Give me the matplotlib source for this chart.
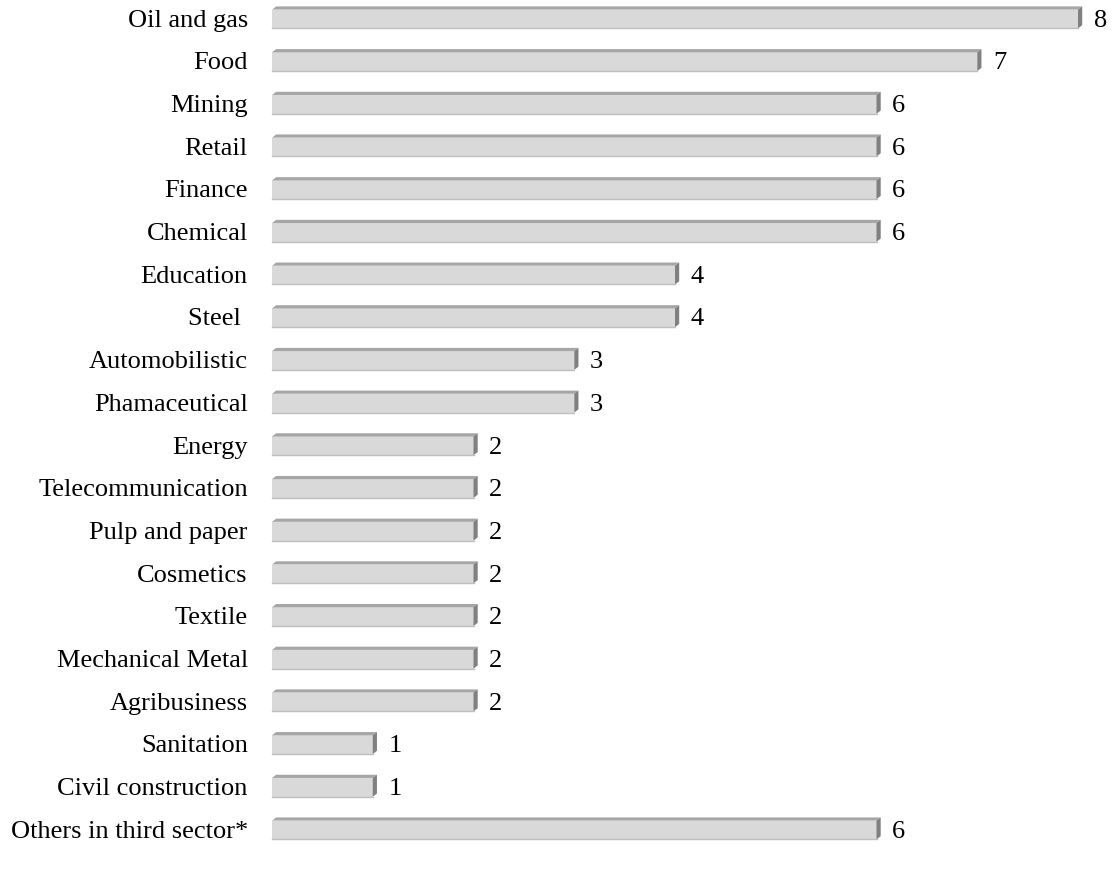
import matplotlib
matplotlib.use("Agg")
import matplotlib.pyplot as plt
from matplotlib.patches import Polygon

sectors = ["Oil and gas", "Food", "Mining", "Retail", "Finance", "Chemical",
           "Education", "Steel ", "Automobilistic", "Phamaceutical", "Energy",
           "Telecommunication", "Pulp and paper", "Cosmetics", "Textile",
           "Mechanical Metal", "Agribusiness", "Sanitation", "Civil construction",
           "Others in third sector*"]
counts = [8, 7, 6, 6, 6, 6, 4, 4, 3, 3, 2, 2, 2, 2, 2, 2, 2, 1, 1, 6]

plt.rcParams['font.family'] = ['Liberation Serif', 'DejaVu Serif']

fig = plt.figure(figsize=(11.14, 8.73), dpi=100)
ax = fig.add_axes([272 / 1114, 0, (1078 - 272) / 1114, 1])
ax.set_xlim(0, 8)
ax.set_ylim(20.007, -0.445)
ax.axis("off")

h = 0.44
dx = 4.2 / 100.75   # depth in data units (x)
dy = 3.2 / 42.68    # depth in data units (y)

for i, (name, v) in enumerate(zip(sectors, counts)):
    top = i - h / 2
    bot = i + h / 2
    ax.add_patch(plt.Rectangle((0, top), v, h, facecolor="#d9d9d9",
                               edgecolor="none", clip_on=False))
    ax.plot([0, v], [bot, bot], color="#bfbfbf", lw=1, clip_on=False)
    # top face
    ax.add_patch(Polygon([(0, top), (dx, top - dy), (v + dx, top - dy), (v, top)],
                         closed=True, facecolor="#a6a6a6", edgecolor="none",
                         clip_on=False))
    # side face
    ax.add_patch(Polygon([(v, top), (v + dx, top - dy), (v + dx, bot - dy), (v, bot)],
                         closed=True, facecolor="#808080", edgecolor="none",
                         clip_on=False))
    ax.text(v + 0.155, i + 0.04, str(v), ha="left", va="center", fontsize=19,
            clip_on=False)
    ax.text(-0.24, i + 0.04, name, ha="right", va="center", fontsize=19,
            clip_on=False)

fig.savefig("out.png", dpi=100)
